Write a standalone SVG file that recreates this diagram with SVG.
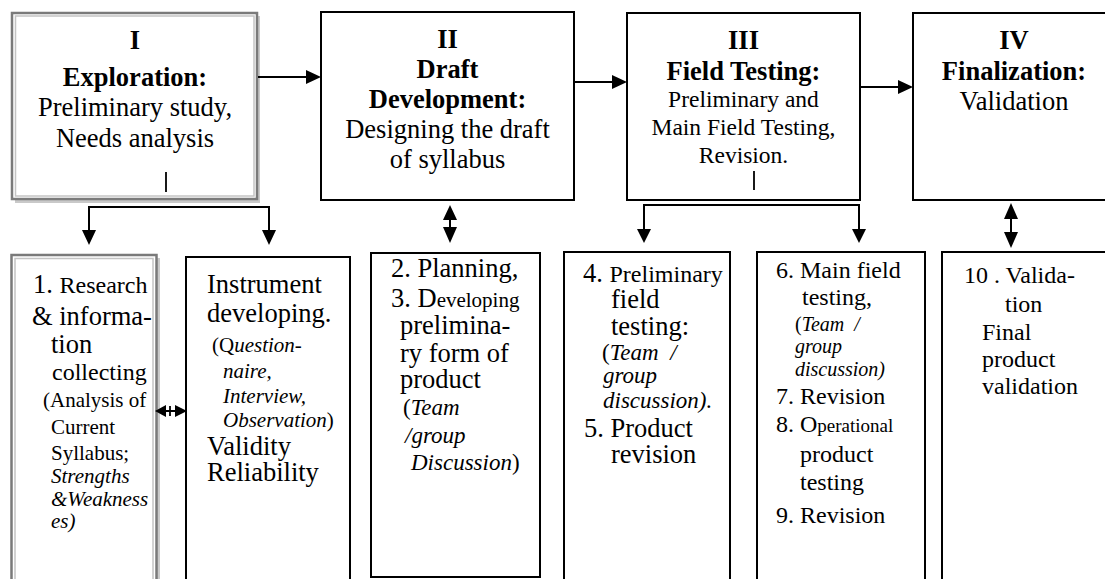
<svg xmlns="http://www.w3.org/2000/svg" width="1105" height="579" viewBox="0 0 1105 579" font-family="'Liberation Serif', 'Times New Roman', 'DejaVu Serif', serif">
  <style>
    text, tspan { font-family: "Liberation Serif", "Times New Roman", "DejaVu Serif", serif; }
    text { fill: #000; }
    .hd { font-weight: bold; font-size: 26.5px; text-anchor: middle; }
    .tc { font-size: 26.5px; text-anchor: middle; }
    .tm { font-size: 23.5px; text-anchor: middle; }
    .t { font-size: 26.5px; }
    .s { font-size: 24px; }
    .xs { font-size: 21px; }
    .i { font-style: italic; }
    .box { fill: #fff; stroke: #000; stroke-width: 2; }
    .gbox { fill: #fff; stroke: #7a7a7a; stroke-width: 2.5; }
    .gin { fill: none; stroke: #c4c4c4; stroke-width: 1.5; }
    .shadow { fill: #c9c9c9; }
    .ln { fill: none; stroke: #000; stroke-width: 2; }
    .tick { stroke: #000; stroke-width: 1.8; }
    .head { fill: #000; }
  </style>
  <rect width="1105" height="579" fill="#fff"/>

  <!-- Stage I -->
  <g id="stage-1">
    <rect class="shadow" x="15" y="16" width="245" height="187"/>
    <rect class="gbox" x="12" y="13" width="245" height="186"/>
    <rect class="gin" x="15.5" y="16" width="238.5" height="180"/>
    <text class="hd" x="135" y="49">I</text>
    <text class="hd" x="135" y="86">Exploration:</text>
    <text class="tc" x="135" y="116">Preliminary study,</text>
    <text class="tc" x="135" y="147">Needs analysis</text>
    <line class="tick" x1="166" y1="172" x2="166" y2="192"/>
  </g>

  <!-- Stage II -->
  <g id="stage-2">
    <rect class="box" x="321" y="12" width="253" height="188"/>
    <text class="hd" x="447.5" y="48">II</text>
    <text class="hd" x="447.5" y="78">Draft</text>
    <text class="hd" x="447.5" y="108">Development:</text>
    <text class="tc" x="447.5" y="138">Designing the draft</text>
    <text class="tc" x="447.5" y="168">of syllabus</text>
  </g>

  <!-- Stage III -->
  <g id="stage-3">
    <rect class="box" x="627" y="13" width="233" height="187"/>
    <text class="hd" x="743.5" y="49">III</text>
    <text class="hd" x="743.5" y="80">Field Testing:</text>
    <text class="tm" x="743.5" y="107">Preliminary and</text>
    <text class="tm" x="743.5" y="135">Main Field Testing,</text>
    <text class="tm" x="743.5" y="163">Revision.</text>
    <line class="tick" x1="754" y1="171" x2="754" y2="190"/>
  </g>

  <!-- Stage IV -->
  <g id="stage-4">
    <rect class="box" x="913" y="13" width="220" height="187"/>
    <text class="hd" x="1014" y="49">IV</text>
    <text class="hd" x="1014" y="80">Finalization:</text>
    <text class="tc" x="1014" y="110">Validation</text>
  </g>

  <!-- Step 1: research and information collecting -->
  <g id="step-research">
    <rect class="shadow" x="14" y="258" width="146" height="340"/>
    <rect class="gbox" x="11.5" y="255" width="145" height="340"/>
    <rect class="gin" x="15" y="258.5" width="138" height="340"/>
    <text x="33" y="293"><tspan class="t">1. </tspan><tspan class="s">Research</tspan></text>
    <text class="t" x="32" y="325">&amp; informa-</text>
    <text class="t" x="51" y="353">tion</text>
    <text class="s" x="52" y="380">collecting</text>
    <text class="xs" x="43" y="407">(Analysis of</text>
    <text class="xs" x="51" y="434">Current</text>
    <text class="xs" x="51" y="460">Syllabus;</text>
    <text class="xs i" x="51" y="483">Strengths</text>
    <text class="xs i" x="51" y="506">&amp;Weakness</text>
    <text class="xs i" x="51" y="528">es)</text>
  </g>

  <!-- Instrument developing -->
  <g id="step-instrument">
    <rect class="box" x="186" y="257" width="164" height="340"/>
    <text class="t" x="207" y="293">Instrument</text>
    <text class="t" x="207" y="322">developing.</text>
    <text x="212" y="352" class="xs">(Q<tspan class="i">uestion-</tspan></text>
    <text class="xs i" x="223" y="378">naire,</text>
    <text class="xs i" x="223" y="403">Interview,</text>
    <text x="223" y="427" class="xs"><tspan class="i">Observation</tspan>)</text>
    <text class="t" x="207" y="455">Validity</text>
    <text class="t" x="207" y="481">Reliability</text>
  </g>

  <!-- Steps 2-3: planning and preliminary form -->
  <g id="step-planning">
    <rect class="box" x="371" y="253" width="169" height="324"/>
    <text class="t" x="391" y="277">2. Planning,</text>
    <text x="391" y="307"><tspan class="t">3. D</tspan><tspan style="font-size:21px">eveloping</tspan></text>
    <text class="t" x="400" y="334">prelimina-</text>
    <text class="t" x="400" y="362">ry form of</text>
    <text class="t" x="400" y="388">product</text>
    <text x="403" y="415" style="font-size:23px">(<tspan class="i">Team</tspan></text>
    <text class="i" x="405" y="443" style="font-size:23px">/group</text>
    <text x="411" y="470" style="font-size:23px"><tspan class="i">Discussion</tspan>)</text>
  </g>

  <!-- Steps 4-5: preliminary field testing -->
  <g id="step-preliminary">
    <rect class="box" x="564" y="252" width="166" height="345"/>
    <text x="583" y="282"><tspan class="t">4. </tspan><tspan class="s">Preliminary</tspan></text>
    <text class="t" x="611" y="308">field</text>
    <text class="t" x="611" y="335">testing:</text>
    <text x="602" y="360" style="font-size:23px">(<tspan class="i">Team&#160;&#160;/</tspan></text>
    <text class="i" x="603" y="383" style="font-size:23px">group</text>
    <text class="i" x="603" y="408" style="font-size:23px">discussion).</text>
    <text class="t" x="584" y="437">5. Product</text>
    <text class="t" x="611" y="463">revision</text>
  </g>

  <!-- Steps 6-9: main field testing and operational testing -->
  <g id="step-main">
    <rect class="box" x="757" y="252" width="168" height="345"/>
    <text class="s" x="776" y="278">6. Main field</text>
    <text class="s" x="802" y="305">testing,</text>
    <text x="795" y="331" style="font-size:20px">(<tspan class="i">Team&#160;&#160;/</tspan></text>
    <text class="i" x="795" y="353" style="font-size:20px">group</text>
    <text class="i" x="795" y="376" style="font-size:20px">discussion)</text>
    <text class="s" x="776" y="404">7. Revision</text>
    <text x="776" y="432"><tspan class="s">8. O</tspan><tspan style="font-size:19px">perational</tspan></text>
    <text class="s" x="800" y="462">product</text>
    <text class="s" x="800" y="490">testing</text>
    <text class="s" x="776" y="523">9. Revision</text>
  </g>

  <!-- Step 10: validation -->
  <g id="step-validation">
    <rect class="box" x="942" y="252" width="200" height="345"/>
    <text class="s" x="964" y="283">10 . Valida-</text>
    <text class="s" x="1005" y="312">tion</text>
    <text class="s" x="982" y="340">Final</text>
    <text class="s" x="982" y="367">product</text>
    <text class="s" x="982" y="394">validation</text>
  </g>

  <!-- Connectors -->
  <g id="connectors">
    <!-- stage to stage -->
    <line class="ln" x1="258" y1="77" x2="306" y2="77"/>
    <polygon class="head" points="306,70 321,77 306,84"/>
    <line class="ln" x1="575" y1="82" x2="613" y2="82"/>
    <polygon class="head" points="612,75 627,82 612,89"/>
    <line class="ln" x1="861" y1="87" x2="899" y2="87"/>
    <polygon class="head" points="898,80 913,87 898,94"/>

    <!-- stage I split -->
    <polyline class="ln" points="89,231 89,207 269,207 269,231"/>
    <polygon class="head" points="82,230 96,230 89,245"/>
    <polygon class="head" points="262,230 276,230 269,245"/>

    <!-- stage II to planning -->
    <line class="ln" x1="450" y1="217" x2="450" y2="229"/>
    <polygon class="head" points="443,220 450,205 457,220"/>
    <polygon class="head" points="443,227 457,227 450,243"/>

    <!-- stage III split -->
    <polyline class="ln" points="644,230 644,205 859,205 859,230"/>
    <polygon class="head" points="637,229 651,229 644,243"/>
    <polygon class="head" points="852,229 866,229 859,243"/>

    <!-- stage IV to validation -->
    <line class="ln" x1="1011" y1="217" x2="1011" y2="234"/>
    <polygon class="head" points="1004,219 1011,203 1018,219"/>
    <polygon class="head" points="1004,232 1018,232 1011,248"/>

    <!-- research and instrument -->
    <line class="ln" x1="164" y1="411" x2="177" y2="411"/>
    <line class="tick" x1="170" y1="406" x2="170" y2="416"/>
    <polygon class="head" points="155,411 166,405 166,417"/>
    <polygon class="head" points="187,411 175,405 175,417"/>
  </g>
</svg>
